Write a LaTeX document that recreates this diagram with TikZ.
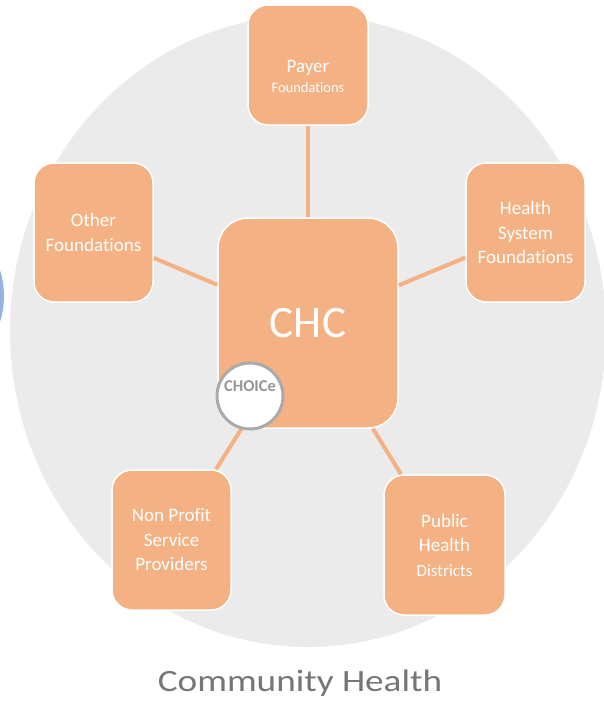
\documentclass[tikz,border=0pt]{standalone}
\usepackage{fontspec}
\setmainfont{Carlito}[Ligatures=CommonOff]
\usepackage{graphicx}

\definecolor{boxorange}{RGB}{244,177,131}
\definecolor{ringgray}{RGB}{235,235,235}
\definecolor{titlegray}{RGB}{118,118,118}
\definecolor{choicegray}{RGB}{170,170,170}
\definecolor{choicetext}{RGB}{150,150,150}
\definecolor{leftblue}{RGB}{150,178,226}

\begin{document}
\begin{tikzpicture}[x=1pt, y=-1pt, line join=round,
    partner/.style={draw=white, line width=1.5pt, fill=boxorange, rounded corners=20pt,
        minimum width=119pt, minimum height=139pt, inner sep=2pt, align=center,
        text=white, font=\fontsize{19}{24.5}\selectfont},
    hub/.style={partner, rounded corners=30pt, minimum width=180pt, minimum height=210pt,
        font=\fontsize{45}{50}\selectfont},
    link/.style={boxorange, line width=4pt},
    choicering/.style={circle, draw=choicegray, line width=3pt, fill=white, minimum size=66pt, inner sep=0pt},
    choicelabel/.style={text=choicetext, font=\fontsize{16.5}{18}\bfseries},
    title/.style={text=titlegray, font=\fontsize{31}{33}\selectfont, inner sep=0pt}]

    \useasboundingbox (0,0) rectangle (604,702);
    \clip (0,0) rectangle (604,702);

    % grey background disc
    \fill[ringgray] (308,331) ellipse [x radius=298pt, y radius=316pt];
    % blue ring cut off on the left
    \draw[leftblue, line width=4pt] (-80,296) circle (82pt);

    % the five partners and the CHC
    \node[hub] (chc) at (308,323) {CHC};
    \node[partner, minimum width=120pt, minimum height=120pt, font=\fontsize{19}{20}\selectfont] (payer) at (308,65)
        {\rule{0pt}{35pt}Payer\\{\fontsize{14.5}{18}\selectfont Foundations}};
    \node[partner] (other) at (93.5,232.5) {Other\\Foundations};
    \node[partner] (hsf) at (525.5,232.5) {Health\\System\\Foundations};
    \node[partner, minimum height=140pt] (nonprofit) at (171.5,540) {Non Profit\\Service\\Providers};
    \node[partner, minimum width=121pt, minimum height=140pt] (public) at (444.5,545)
        {Public\\Health\\{\fontsize{17}{20}\selectfont Districts}};

    % links to the hub
    \foreach \p in {payer, other, hsf, nonprofit, public} {
        \draw[link] (\p) -- (chc);
    }

    % CHOICe badge on the hub corner
    \node[choicering] (choice) at (250,396) {};
    \node[choicelabel] (choicetxt) at (250,386) {CHOICe};

    \node[title, anchor=base] (caption) at (300,691) {\scalebox{1.2}[1]{Community Health}};
\end{tikzpicture}
\end{document}
